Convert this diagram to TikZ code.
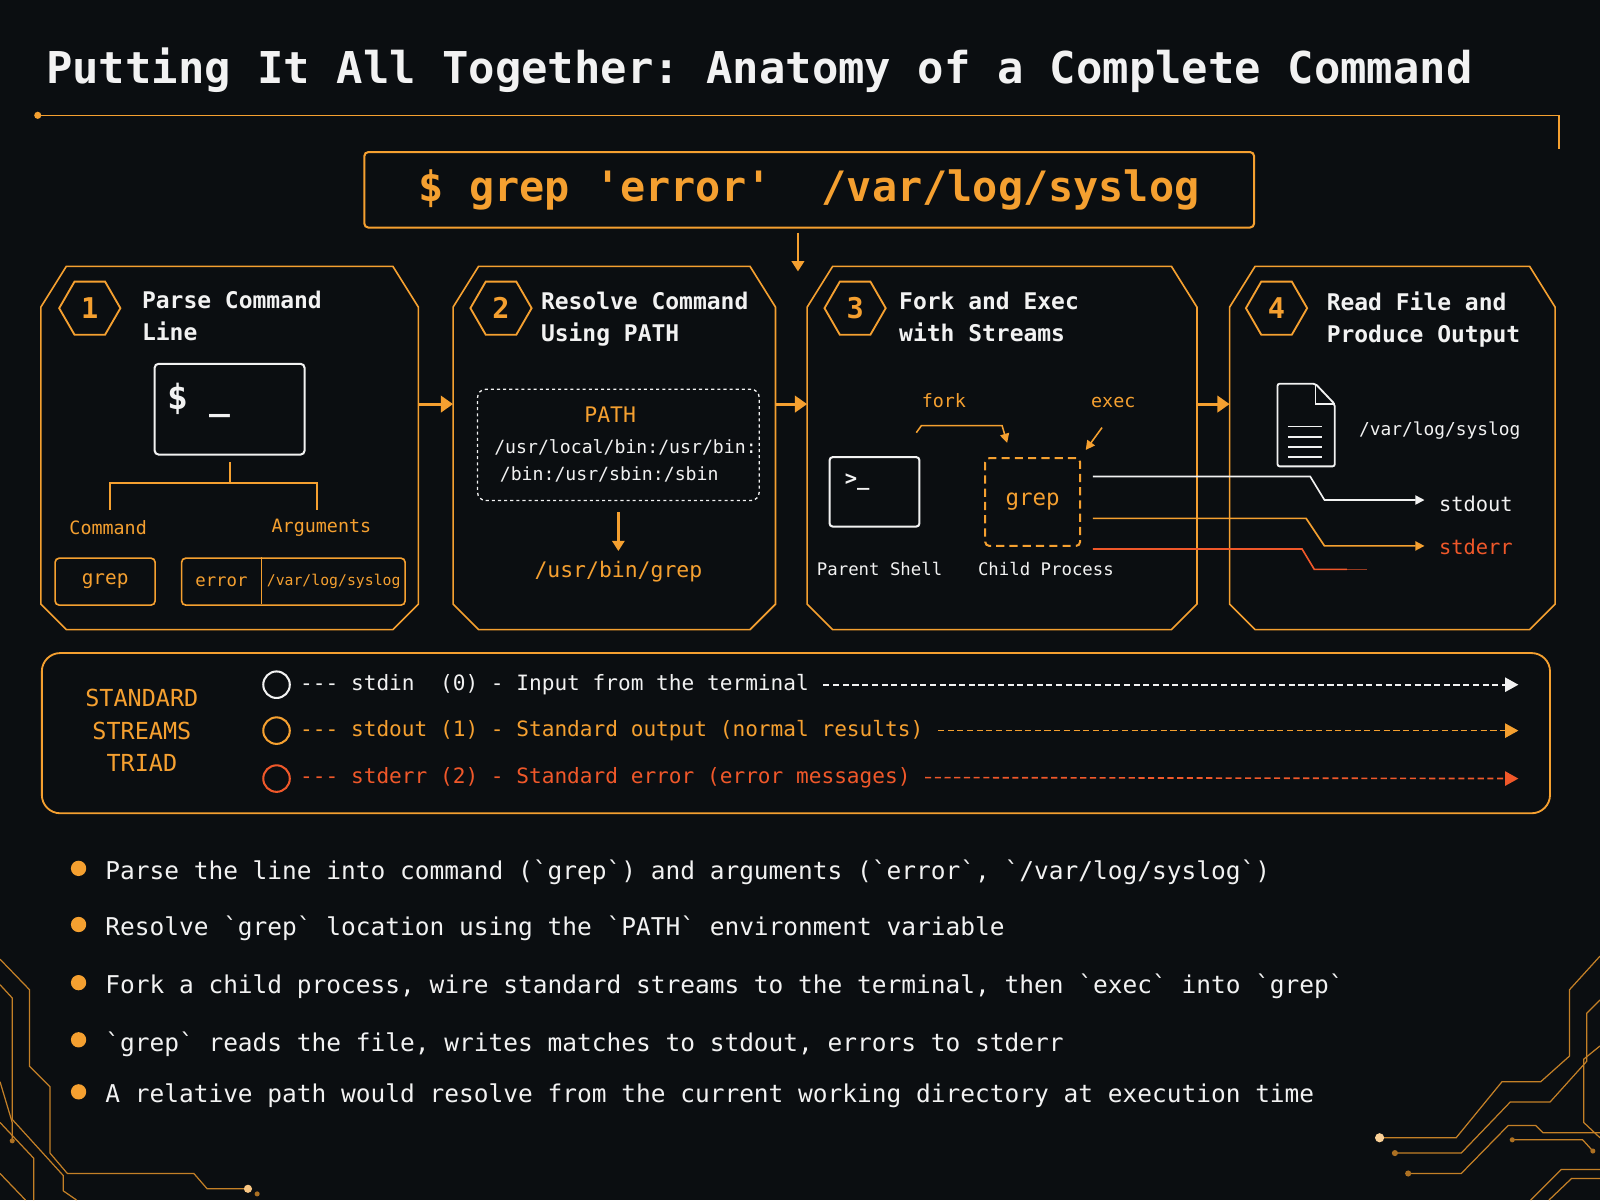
\documentclass[tikz,border=0pt]{standalone}
\usepackage{fontspec}
\setmainfont{DejaVu Sans Mono}[Ligatures=TeXOff]
\usetikzlibrary{shapes.geometric,arrows.meta}
\definecolor{bg}{HTML}{0B0E11}
\definecolor{org}{HTML}{F5A030}
\definecolor{red}{HTML}{F0582A}
\definecolor{wht}{HTML}{F2F2F2}
\newcommand{\fs}[1]{\fontsize{#1}{1.38\dimexpr#1pt\relax}\selectfont}
\newcommand{\mypanel}[5]{% name x1 y1 x2 y2
  \draw[org,line width=1.6pt] (#2+25,#3) -- (#4-25,#3) -- (#4,#3+40) -- (#4,#5-25) -- (#4-25,#5) -- (#2+25,#5) -- (#2,#5-25) -- (#2,#3+40) -- cycle;
  \coordinate (#1L) at (#2,396); \coordinate (#1R) at (#4,396);}
\begin{document}
\frenchspacing
\begin{tikzpicture}[x=1pt,y=-1pt,
  txt/.style={inner sep=0pt,text=wht},
  otxt/.style={inner sep=0pt,text=org},
  badge/.style={regular polygon,regular polygon sides=6,draw=org,line width=1.8pt,minimum size=60pt,inner sep=0pt,text=org,font=\fs{28}\bfseries},
  ptitle/.style={txt,anchor=north west,align=left,font=\fs{22.5}\bfseries},
  flow/.style={org,line width=3pt,-{Triangle[length=12pt,width=16pt]}},
  sml/.style={-{Triangle[length=9pt,width=9pt]}},
  circ/.style={draw,line width=2pt,circle,minimum size=26pt,inner sep=0pt},
  leg/.style={inner sep=0pt,anchor=west,font=\fs{20.7}},
  bul/.style={txt,anchor=west,font=\fs{24}},
  trace/.style={org!80!black,line width=1.2pt}]
\useasboundingbox (0,0) rectangle (1568,1176);
\fill[bg] (0,0) rectangle (1568,1176);
% title
\node[txt,anchor=base west,font=\fs{43}\bfseries] (title) at (45,82) {Putting It All Together: Anatomy of a Complete Command};
\coordinate (t1) at (37,113); \coordinate (t2) at (1528,113); \coordinate (t3) at (1528,146);
\draw[org,line width=1.5pt] (t1) -- (t2) -- (t3);
\fill[org] (t1) circle (3.5pt);
% command
\node[draw=org,line width=2pt,rounded corners=4pt,minimum width=872pt,minimum height=74pt,otxt,font=\fs{41}\bfseries] (cmd) at (793,186) {\$ grep 'error'\ \ /var/log/syslog};
\coordinate (ca) at (782,228); \coordinate (cb) at (782,266);
\draw[org,line width=2.4pt,-{Triangle[length=10pt,width=12pt]}] (ca) -- (cb);
% panels
\mypanel{A}{40}{261}{410}{617}
\mypanel{B}{444}{261}{760}{617}
\mypanel{C}{791}{261}{1173}{617}
\mypanel{D}{1205}{261}{1524}{617}
\draw[flow] (AR) -- (BL);
\draw[flow] (BR) -- (CL);
\draw[flow] (CR) -- (DL);
\node[badge] (b1) at (88,302) {1};
\node[badge] (b2) at (491,302) {2};
\node[badge] (b3) at (838,302) {3};
\node[badge] (b4) at (1251,302) {4};
\node[ptitle] (h1) at (139,285) {Parse Command\\Line};
\node[ptitle] (h2) at (530,286) {Resolve Command\\Using PATH};
\node[ptitle] (h3) at (881,286) {Fork and Exec\\with Streams};
\node[ptitle] (h4) at (1300,286) {Read File and\\Produce Output};
% panel 1
\node[draw=wht,line width=2pt,rounded corners=4pt,minimum width=147pt,minimum height=89pt] (term) at (225,401) {};
\node[txt,font=\fs{34}\bfseries] (dol) at (195,392) {\$ \_};
\coordinate (tr0) at (225,453); \coordinate (tr1) at (225,473);
\coordinate (trL) at (108,473); \coordinate (trR) at (311,473);
\coordinate (trL2) at (108,500); \coordinate (trR2) at (311,500);
\draw[org,line width=1.8pt] (tr0) -- (tr1) (trL2) -- (trL) -- (trR) -- (trR2);
\node[otxt,font=\fs{18}] (lc) at (106,517) {Command};
\node[otxt,font=\fs{18}] (la) at (315,517) {Arguments};
\node[draw=org,line width=1.6pt,rounded corners=4pt,minimum width=98pt,minimum height=46pt,otxt,font=\fs{19}] (g1) at (103,570) {grep};
\node[draw=org,line width=1.6pt,rounded corners=4pt,minimum width=219pt,minimum height=46pt] (args) at (287.5,570) {};
\draw[org,line width=1.6pt] (args.north west) ++(79,0) coordinate (dv1) -- ++(0,46) coordinate (dv2);
\node[otxt,font=\fs{17}] (e1) at (217,570) {error};
\node[otxt,font=\fs{14.5}] (v1) at (327,570) {/var/log/syslog};
% panel 2
\node[draw=wht,dashed,line width=1.3pt,rounded corners=8pt,minimum width=276pt,minimum height=109pt] (pbox) at (606,436) {};
\node[otxt,font=\fs{21}] (pt) at (598,406) {PATH};
\node[txt,font=\fs{17.8}] (p1) at (613,438) {/usr/local/bin:/usr/bin:};
\node[txt,font=\fs{17.8}] (p2) at (597,465) {/bin:/usr/sbin:/sbin};
\coordinate (pa) at (606,502);
\node[otxt,font=\fs{21}] (ug) at (606,560) {/usr/bin/grep};
\draw[org,line width=2.4pt,-{Triangle[length=10pt,width=12pt]}] (pa) -- (606,540);
% panel 3
\node[otxt,font=\fs{18}] (fk) at (925,393) {fork};
\node[otxt,font=\fs{18}] (ex) at (1091,394) {exec};
\node[draw=wht,line width=2pt,rounded corners=3pt,minimum width=88pt,minimum height=68pt] (ps) at (857,482) {};
\node[txt,font=\fs{20}\bfseries] (pr) at (840,472) {>\_};
\node[draw=org,dashed,dash pattern=on 8pt off 5pt,line width=2pt,rounded corners=4pt,minimum width=93pt,minimum height=86pt,otxt,font=\fs{22}] (cg) at (1012,492) {grep};
\coordinate (f0) at (898,424); \coordinate (f1) at (903,417); \coordinate (f2) at (982,417); \coordinate (f3) at (987,434);
\draw[org,line width=1.5pt,sml] (f0) -- (f1) -- (f2) -- (f3);
\coordinate (x0) at (1080,419); \coordinate (x1) at (1064,441);
\draw[org,line width=1.5pt,sml] (x0) -- (x1);
\node[txt,font=\fs{17}] (lps) at (862,558) {Parent Shell};
\node[txt,font=\fs{17}] (lcp) at (1025,558) {Child Process};
% streams
\node[txt,anchor=west,font=\fs{20}] (so) at (1410,494) {stdout};
\node[inner sep=0pt,text=red,anchor=west,font=\fs{20}] (se) at (1410,536) {stderr};
\coordinate (so1) at (1396,490); \coordinate (se1) at (1396,535);
\draw[wht,line width=1.6pt,sml] (1071,467) -- (1284,467) -- (1298,490) -- (so1);
\draw[org,line width=1.6pt,sml] (1071,508) -- (1280,508) -- (1298,535) -- (se1);
\draw[red,line width=1.6pt] (1071,538) -- (1276,538) -- (1288,558) -- (1320,558);
\draw[red!60!bg,line width=1.6pt] (1320,558) -- (1340,558);
% doc icon
\draw[wht,line width=1.8pt,rounded corners=2pt] (1252,376) -- (1289,376) -- (1308,396) -- (1308,457) -- (1252,457) -- cycle;
\draw[wht,line width=1.5pt] (1289,376) -- (1289,396) -- (1308,396);
\foreach \yy in {418,428,438,448} \draw[wht,line width=1.5pt] (1262,\yy) -- (1296,\yy);
\node[txt,font=\fs{17.5}] (dv) at (1411,422) {/var/log/syslog};
% legend
\node[draw=org,line width=1.8pt,rounded corners=18pt,minimum width=1478pt,minimum height=157pt] (legend) at (780,718.5) {};
\node[otxt,align=center,font=\fontsize{23}{32}\selectfont] (sst) at (139,716) {STANDARD\\STREAMS\\TRIAD};
\node[circ,draw=wht] (c0) at (271,671) {};
\node[circ,draw=org] (c1) at (271,716) {};
\node[circ,draw=red] (c2) at (271,763) {};
\node[leg,text=wht] (l0) at (294,671) {--- stdin\ \ (0) - Input from the terminal};
\node[leg,text=org] (l1) at (294,716) {--- stdout (1) - Standard output (normal results)};
\node[leg,text=red] (l2) at (294,762) {--- stderr (2) - Standard error (error messages)};
\coordinate (e0) at (1488,671); \coordinate (e1) at (1488,716); \coordinate (e2) at (1488,763);
\draw[wht,line width=1.6pt,dash pattern=on 6pt off 3.5pt,-{Triangle[length=13pt,width=14pt]}] ([xshift=14pt]l0.east) -- (e0);
\draw[org,line width=1.6pt,dash pattern=on 6pt off 3.5pt,-{Triangle[length=13pt,width=14pt]}] ([xshift=14pt]l1.east) -- (e1);
\draw[red,line width=1.6pt,dash pattern=on 6pt off 3.5pt,-{Triangle[length=13pt,width=14pt]}] ([xshift=14pt]l2.east) -- (e2);
% bullets
\foreach \yy/\tt [count=\i] in {
 855/{Parse the line into command (`grep`) and arguments (`error`, `/var/log/syslog`)},
 910/{Resolve `grep` location using the `PATH` environment variable},
 967/{Fork a child process, wire standard streams to the terminal, then `exec` into `grep`},
 1023/{`grep` reads the file, writes matches to stdout, errors to stderr},
 1074/{A relative path would resolve from the current working directory at execution time}}{
 \fill[org] (77,\yy-4) circle (7.5pt);
 \node[bul] (bt\i) at (103,\yy) {\tt};}
% circuit traces lower left
\draw[trace] (0,940) -- (29,970) -- (29,1045) -- (49,1065) -- (49,1130) -- (66,1150) -- (190,1150) -- (203,1165) -- (243,1165);
\draw[trace] (0,965) -- (12,978) -- (12,1097) -- (62,1152) -- (62,1167) -- (75,1176);
\draw[trace] (0,1100) -- (33,1135) -- (33,1176);
\draw[trace] (0,1060) -- (12,1100) -- (12,1118);
\draw[trace] (0,1150) -- (25,1176);
\fill[org!60!white] (243,1165) circle (4pt);
\fill[org!70!black] (12,1118) circle (2.5pt);
\fill[org!70!black] (252,1170) circle (2.5pt);
% circuit traces lower right
\draw[trace] (1568,937) -- (1538,970) -- (1538,1035) -- (1510,1060) -- (1472,1060) -- (1427,1115) -- (1352,1115);
\draw[trace] (1568,980) -- (1555,993) -- (1555,1040) -- (1519,1080) -- (1480,1080) -- (1432,1130) -- (1367,1130);
\draw[trace] (1568,1025) -- (1552,1038) -- (1552,1100) -- (1568,1115);
\draw[trace] (1380,1150) -- (1432,1150) -- (1478,1103) -- (1505,1103) -- (1512,1110) -- (1568,1110);
\draw[trace] (1482,1117) -- (1551,1117) -- (1561,1128);
\draw[trace] (1518,1176) -- (1540,1155) -- (1568,1155);
\draw[trace] (1500,1176) -- (1530,1146) -- (1568,1146);
\fill[org!50!white] (1352,1115) circle (4.5pt);
\fill[org!70!black] (1367,1130) circle (3pt);
\fill[org!70!black] (1380,1150) circle (3pt);
\fill[org!70!black] (1482,1117) circle (2.5pt);
\fill[org!70!black] (1561,1128) circle (2.5pt);
\end{tikzpicture}
\end{document}
